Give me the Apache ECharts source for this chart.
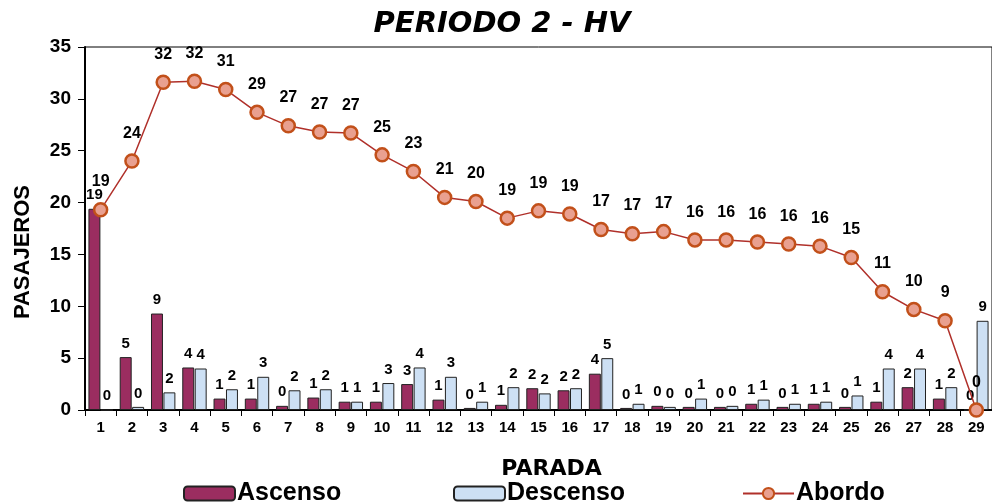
<!DOCTYPE html>
<html>
<head>
    <meta charset="utf-8">
    <title>PERIODO 2 - HV</title>
    <style>
        html,body{ margin:0; padding:0; background:#fff; }
    </style>
</head>
<body>
<script src="https://cdn.jsdelivr.net/npm/echarts@6/dist/echarts.min.js"></script>
<div id="main" style="width:992px;height:504px;"></div>
<script type="text/javascript">
    // paradas 1..29
    var paradas = ['1','2','3','4','5','6','7','8','9','10','11','12','13','14','15','16','17','18','19','20','21','22','23','24','25','26','27','28','29'];
    // valores
    var ascenso = [19.4, 5.1, 9.3, 4.1, 1.1, 1.1, 0.4, 1.2, 0.8, 0.8, 2.5, 1.0, 0.2, 0.5, 2.1, 1.9, 3.5, 0.2, 0.4, 0.3, 0.3, 0.6, 0.3, 0.6, 0.3, 0.8, 2.2, 1.1, 0];
    var descenso = [0, 0.3, 1.7, 4.0, 2.0, 3.2, 1.9, 2.0, 0.8, 2.6, 4.1, 3.2, 0.8, 2.2, 1.6, 2.1, 5.0, 0.6, 0.3, 1.1, 0.4, 1.0, 0.6, 0.8, 1.4, 4.0, 4.0, 2.2, 8.6];
    var abordo = [19.3, 24.0, 31.6, 31.7, 30.9, 28.7, 27.4, 26.8, 26.7, 24.6, 23.0, 20.5, 20.1, 18.5, 19.2, 18.9, 17.4, 17.0, 17.2, 16.4, 16.4, 16.2, 16.0, 15.8, 14.7, 11.4, 9.7, 8.6, 0];

    var myChart = echarts.init(document.getElementById('main'));

    var lblFont = 'Liberation Sans';
    function redondeo(p) { return Math.round(p.value); }

    // una leyenda por serie para ubicarlas como en el original
    function leyenda(nombre, x) {
        return {
            top: 476,
            left: x,
            itemWidth: 51,
            itemHeight: 14,
            textStyle: { fontFamily: lblFont, fontSize: 25, fontWeight: 'bold', color: '#000', padding: [0, 0, 0, -3] },
            data: [nombre]
        };
    }

    myChart.setOption({
        animation: false,
        title: {
            text: 'PERIODO 2 - HV',
            left: 497,
            top: 5,
            textAlign: 'center',
            textStyle: { fontFamily: 'DejaVu Sans', fontSize: 29, fontWeight: 'bold', fontStyle: 'italic', color: '#000' }
        },
        legend: [
            leyenda('Ascenso', 178),
            leyenda('Descenso', 448),
            leyenda('Abordo', 737)
        ],
        graphic: [{
            type: 'text',
            left: 12,
            top: 185,
            rotation: Math.PI / 2,
            style: { text: 'PASAJEROS', font: 'bold 22px "Liberation Sans"', fill: '#000' }
        }],
        grid: {
            left: 85,
            right: -9,
            top: 47,
            bottom: 94,
            show: true,
            borderColor: '#000',
            borderWidth: 1
        },
        xAxis: {
            type: 'category',
            data: paradas,
            name: 'PARADA',
            nameLocation: 'middle',
            nameGap: 48,
            nameTextStyle: { fontFamily: 'DejaVu Sans', fontSize: 22, fontWeight: 'bold', color: '#000', padding: [0, 0, 0, 26] },
            axisLine: { lineStyle: { color: '#000', width: 2 } },
            axisTick: { show: true, length: 6, lineStyle: { color: '#000' } },
            axisLabel: { fontFamily: lblFont, fontSize: 15, fontWeight: 'bold', color: '#000', margin: 10 }
        },
        yAxis: {
            type: 'value',
            min: 0,
            max: 35,
            interval: 5,
            axisLine: { show: true, lineStyle: { color: '#000', width: 2 } },
            axisTick: { show: true, length: 7, lineStyle: { color: '#000' } },
            axisLabel: { fontFamily: lblFont, fontSize: 19, fontWeight: 'bold', color: '#000', margin: 14 },
            splitLine: { show: false }
        },
        series: [
            {
                name: 'Ascenso',
                type: 'bar',
                data: ascenso,
                barGap: '4%',
                barCategoryGap: '22%',
                itemStyle: { color: '#9B2D60', borderColor: '#222', borderWidth: 1 },
                label: {
                    show: true, position: 'top', distance: 6, formatter: redondeo,
                    fontFamily: lblFont, fontSize: 15, fontWeight: 'bold', color: '#000'
                }
            },
            {
                name: 'Descenso',
                type: 'bar',
                data: descenso,
                itemStyle: { color: '#CDE0F4', borderColor: '#222', borderWidth: 1 },
                label: {
                    show: true, position: 'top', distance: 6, formatter: redondeo,
                    fontFamily: lblFont, fontSize: 15, fontWeight: 'bold', color: '#000'
                }
            },
            {
                name: 'Abordo',
                type: 'line',
                data: abordo,
                z: 5,
                symbol: 'circle',
                symbolSize: 13,
                lineStyle: { color: '#B0302A', width: 1.5 },
                itemStyle: { color: '#E9A090', borderColor: '#C2501A', borderWidth: 2.5 },
                label: {
                    show: true, position: 'top', distance: 12, formatter: redondeo,
                    fontFamily: lblFont, fontSize: 16, fontWeight: 'bold', color: '#000'
                }
            }
        ]
    });
</script>
</body>
</html>
